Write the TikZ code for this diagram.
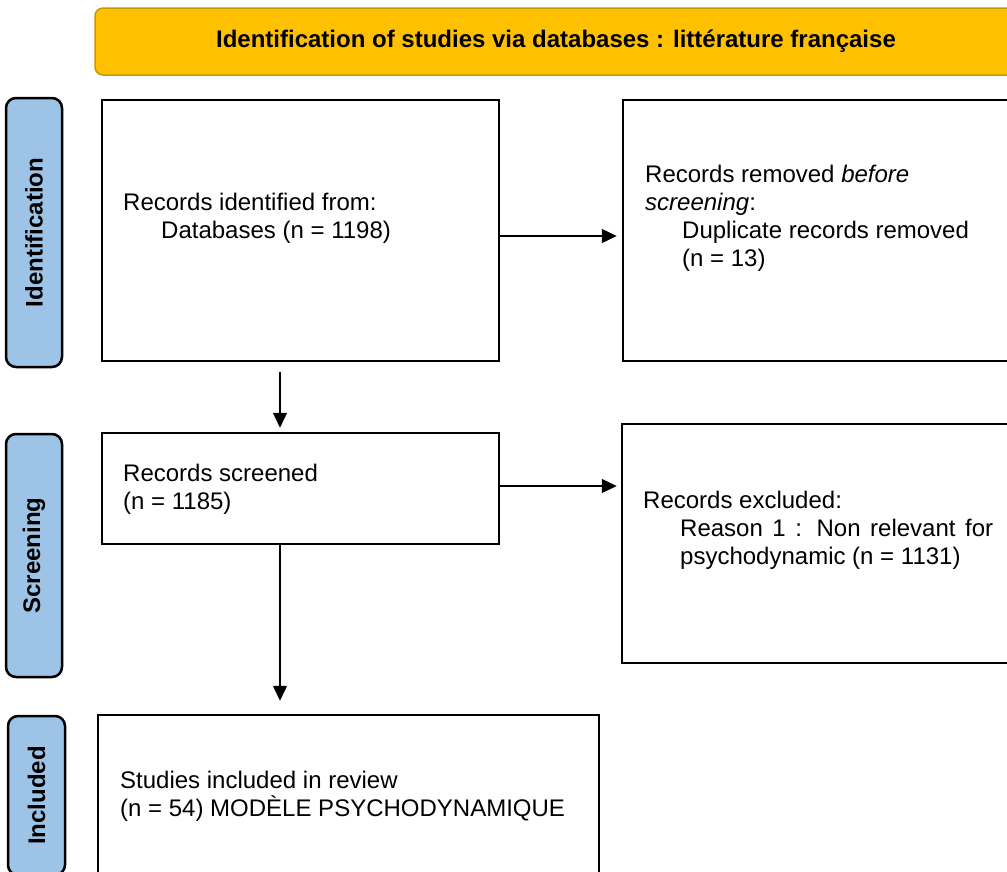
\documentclass[tikz,border=0pt]{standalone}
\usepackage{fontspec}
\setmainfont{Liberation Sans}
\usepackage{xcolor}
\usepackage{tikz}
\usetikzlibrary{arrows.meta, positioning, calc}

\definecolor{bannerfill}{HTML}{FFC000}
\definecolor{bannerdraw}{HTML}{C49A00}
\definecolor{stagefill}{HTML}{9DC3E6}

\begin{document}
\begin{tikzpicture}[
    x=1pt, y=-1pt,
    font=\fontsize{24}{28}\selectfont,
    banner/.style={rectangle, rounded corners=8pt, draw=bannerdraw, line width=1.5pt, fill=bannerfill, font=\fontsize{24}{28}\selectfont\bfseries},
    stage/.style={rectangle, rounded corners=10pt, draw, line width=2.5pt, fill=stagefill, rotate=90, minimum height=56pt, font=\fontsize{24}{28}\selectfont\bfseries},
    box/.style={rectangle, draw, line width=2.5pt},
    info/.style={anchor=west, align=left, inner sep=0pt},
    arrow/.style={-{Triangle[length=15pt, width=14pt]}, line width=1.3pt}
]
\useasboundingbox (0,0) rectangle (1007,871);
\clip (0,0) rectangle (1007,871);

\node[banner, minimum width=922pt, minimum height=67pt] (title) at (556,41.5) {Identification of studies via databases : littérature française};

% phases
\node[stage, minimum width=269pt] (identification) at (34,232.5) {Identification};
\node[stage, minimum width=243pt] (screening) at (34,555.5) {Screening};
\node[stage, minimum width=159pt, minimum height=57pt] (included) at (36.5,795.5) {Included};

% boxes
\node[box, minimum width=397pt, minimum height=261pt] (identified) at (300.5,230.5) {};
\node[box, minimum width=417pt, minimum height=261pt] (removed) at (831.5,230.5) {};
\node[box, minimum width=397pt, minimum height=111pt] (screened) at (300.5,488.5) {};
\node[box, minimum width=418pt, minimum height=239pt] (excluded) at (831,543.5) {};
\node[box, minimum width=501pt, minimum height=160pt] (studies) at (348.5,795) {};

\node[info] (identifiedtxt) at (123,218) {Records identified from:\\\hspace*{38pt}Databases (n = 1198)};
\node[info] (removedtxt) at (645,218) {Records removed \textit{before}\\\textit{screening}:\\\hspace*{37pt}Duplicate records removed\\\hspace*{37pt}(n = 13)};
\node[info] (screenedtxt) at (123,489) {Records screened\\(n = 1185)};
\node[info] (excludedtxt) at (643,530) {Records excluded:\\\hspace*{37pt}\parbox[t]{313pt}{Reason 1 : Non relevant for psychodynamic (n = 1131)}};
\node[info] (studiestxt) at (120,796) {Studies included in review\\(n = 54) MODÈLE PSYCHODYNAMIQUE};

\coordinate (col) at (280,0);

\draw[arrow, shorten >=5pt] ([yshift=-5.5pt]identified.east) -- ([yshift=-5.5pt]identified.east -| removed.west);
\draw[arrow, shorten <=10pt, shorten >=4pt] (identified.south -| col) -- (screened.north -| col);
\draw[arrow, shorten >=4pt] ([yshift=2.5pt]screened.east) -- ([yshift=2.5pt]screened.east -| excluded.west);
\draw[arrow, shorten >=13pt] (screened.south -| col) -- (studies.north -| col);

\end{tikzpicture}
\end{document}
